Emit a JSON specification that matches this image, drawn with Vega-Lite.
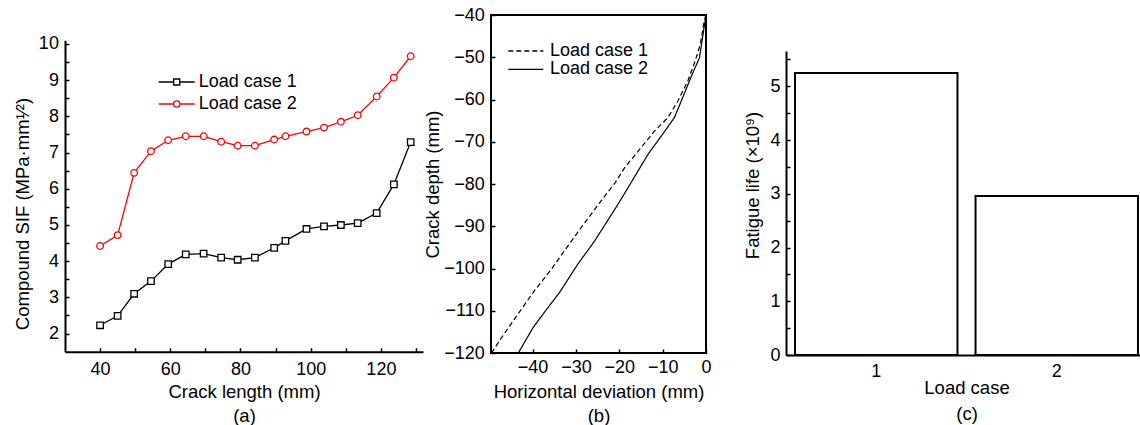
{
  "$schema": "https://vega.github.io/schema/vega-lite/v6.json",
  "padding": {"left": 13, "top": 5, "right": 0, "bottom": 0},
  "autosize": {"type": "pad"},
  "background": "white",
  "bounds": "flush",
  "columns": 3,
  "align": {"row": "none", "column": "each"},
  "spacing": {"row": 0, "column": 68},
  "resolve": {
    "scale": {"color": "independent", "strokeDash": "independent", "shape": "independent", "stroke": "independent"},
    "legend": {"color": "independent", "strokeDash": "independent", "shape": "independent", "stroke": "independent"}
  },
  "config": {
    "font": "Liberation Sans",
    "view": {"stroke": null},
    "axis": {
      "domainColor": "black", "domainWidth": 2,
      "tickColor": "black", "tickWidth": 1.5, "tickSize": -4,
      "labelFont": "Liberation Sans", "labelFontSize": 18, "labelColor": "black",
      "titleFont": "Liberation Sans", "titleFontSize": 18.5, "titleFontWeight": "normal", "titleColor": "black",
      "titleLineHeight": 24, "grid": false, "labelFlush": false, "labelOverlap": false
    },
    "legend": {"labelFont": "Liberation Sans", "labelColor": "black", "padding": 0}
  },
  "concat": [
    {"width": 358, "height": 1, "mark": "point", "data": {"values": []}},
    {"width": 227, "height": 1, "mark": "point", "data": {"values": []}},
    {"width": 361, "height": 1, "mark": "point", "data": {"values": []}},
    {
      "width": 358,
      "height": 336.7,
      "data": {"values": [
        {"len": 40, "sif": 2.23, "series": "Load case 1"},
        {"len": 45, "sif": 2.49, "series": "Load case 1"},
        {"len": 49.7, "sif": 3.10, "series": "Load case 1"},
        {"len": 54.5, "sif": 3.45, "series": "Load case 1"},
        {"len": 59.4, "sif": 3.92, "series": "Load case 1"},
        {"len": 64.4, "sif": 4.19, "series": "Load case 1"},
        {"len": 69.5, "sif": 4.21, "series": "Load case 1"},
        {"len": 74.5, "sif": 4.10, "series": "Load case 1"},
        {"len": 79.2, "sif": 4.04, "series": "Load case 1"},
        {"len": 84.1, "sif": 4.10, "series": "Load case 1"},
        {"len": 89.6, "sif": 4.37, "series": "Load case 1"},
        {"len": 92.8, "sif": 4.56, "series": "Load case 1"},
        {"len": 98.8, "sif": 4.89, "series": "Load case 1"},
        {"len": 103.8, "sif": 4.96, "series": "Load case 1"},
        {"len": 108.6, "sif": 5.00, "series": "Load case 1"},
        {"len": 113.4, "sif": 5.05, "series": "Load case 1"},
        {"len": 118.8, "sif": 5.33, "series": "Load case 1"},
        {"len": 123.7, "sif": 6.12, "series": "Load case 1"},
        {"len": 128.5, "sif": 7.29, "series": "Load case 1"},
        {"len": 40, "sif": 4.42, "series": "Load case 2"},
        {"len": 45, "sif": 4.72, "series": "Load case 2"},
        {"len": 49.7, "sif": 6.44, "series": "Load case 2"},
        {"len": 54.5, "sif": 7.04, "series": "Load case 2"},
        {"len": 59.4, "sif": 7.34, "series": "Load case 2"},
        {"len": 64.4, "sif": 7.45, "series": "Load case 2"},
        {"len": 69.5, "sif": 7.45, "series": "Load case 2"},
        {"len": 74.5, "sif": 7.30, "series": "Load case 2"},
        {"len": 79.2, "sif": 7.19, "series": "Load case 2"},
        {"len": 84.1, "sif": 7.19, "series": "Load case 2"},
        {"len": 89.6, "sif": 7.36, "series": "Load case 2"},
        {"len": 92.8, "sif": 7.45, "series": "Load case 2"},
        {"len": 98.8, "sif": 7.58, "series": "Load case 2"},
        {"len": 103.8, "sif": 7.69, "series": "Load case 2"},
        {"len": 108.6, "sif": 7.85, "series": "Load case 2"},
        {"len": 113.4, "sif": 8.03, "series": "Load case 2"},
        {"len": 118.8, "sif": 8.55, "series": "Load case 2"},
        {"len": 123.7, "sif": 9.07, "series": "Load case 2"},
        {"len": 128.5, "sif": 9.66, "series": "Load case 2"}
      ]},
      "encoding": {
        "x": {
          "field": "len", "type": "quantitative",
          "scale": {"domain": [30, 132], "nice": false, "zero": false},
          "axis": {
            "values": [40, 50, 60, 70, 80, 90, 100, 110, 120, 130],
            "labelExpr": "datum.value % 20 === 0 ? '' + datum.value : ''",
            "labelPadding": 13, "titlePadding": 4,
            "title": ["Crack length (mm)", "(a)"]
          }
        },
        "y": {
          "field": "sif", "type": "quantitative",
          "scale": {"domain": [1.5, 10.8], "nice": false, "zero": false},
          "axis": {
            "values": [2, 2.5, 3, 3.5, 4, 4.5, 5, 5.5, 6, 6.5, 7, 7.5, 8, 8.5, 9, 9.5, 10],
            "labelExpr": "datum.value % 1 === 0 ? '' + datum.value : ''",
            "domainDash": [311.4, 500],
            "labelPadding": 10.6, "titlePadding": 6, "titleY": 198.5,
            "title": "Compound SIF (MPa·mm¹⁄²)"
          }
        }
      },
      "layer": [
        {
          "mark": {"type": "line", "strokeWidth": 1.3},
          "encoding": {
            "color": {
              "field": "series", "type": "nominal",
              "scale": {"domain": ["Load case 1", "Load case 2"], "range": ["#000000", "#ff0000"]},
              "legend": {
                "orient": "none", "legendX": 100.7, "legendY": 56, "title": null,
                "symbolSize": 400, "symbolStrokeWidth": 1.3,
                "labelFontSize": 18, "labelOffset": 11, "rowPadding": 2,
                "encode": {"symbols": {"update": {
                  "shape": {"signal": "datum.value === 'Load case 1' ? 'M-1.8,0H-0.3M0.3,0H1.8M-0.3,-0.3H0.3V0.3H-0.3Z' : 'M-1.8,0H-0.32M0.32,0H1.8M-0.32,0A0.32,0.32,0,1,1,0.32,0A0.32,0.32,0,1,1,-0.32,0Z'"},
                  "fill": {"value": "white"}
                }}}
              }
            }
          }
        },
        {
          "transform": [{"filter": "datum.series === 'Load case 1'"}],
          "mark": {"type": "point", "shape": "square", "filled": true, "fill": "white", "stroke": "#000000", "strokeWidth": 1.3, "size": 42, "opacity": 1}
        },
        {
          "transform": [{"filter": "datum.series === 'Load case 2'"}],
          "mark": {"type": "point", "shape": "circle", "filled": true, "fill": "white", "stroke": "#ff0000", "strokeWidth": 1.3, "size": 44, "opacity": 1}
        }
      ]
    },
    {
      "width": 215,
      "height": 338,
      "view": {"stroke": "black", "strokeWidth": 2},
      "data": {"values": [
        {"dev": -49.5, "depth": -120, "series": "Load case 1"},
        {"dev": -47.2, "depth": -116.4, "series": "Load case 1"},
        {"dev": -43.4, "depth": -110.8, "series": "Load case 1"},
        {"dev": -39.6, "depth": -105.3, "series": "Load case 1"},
        {"dev": -35.7, "depth": -100.2, "series": "Load case 1"},
        {"dev": -31.9, "depth": -94.7, "series": "Load case 1"},
        {"dev": -28.0, "depth": -89.2, "series": "Load case 1"},
        {"dev": -24.2, "depth": -84.0, "series": "Load case 1"},
        {"dev": -20.9, "depth": -79.6, "series": "Load case 1"},
        {"dev": -18.8, "depth": -76.2, "series": "Load case 1"},
        {"dev": -15.0, "depth": -71.4, "series": "Load case 1"},
        {"dev": -11.9, "depth": -67.5, "series": "Load case 1"},
        {"dev": -8.8, "depth": -64.3, "series": "Load case 1"},
        {"dev": -6.5, "depth": -60.4, "series": "Load case 1"},
        {"dev": -4.2, "depth": -55.6, "series": "Load case 1"},
        {"dev": -2.5, "depth": -50.9, "series": "Load case 1"},
        {"dev": -1.3, "depth": -46.9, "series": "Load case 1"},
        {"dev": -0.4, "depth": -41.4, "series": "Load case 1"},
        {"dev": -0.1, "depth": -40.3, "series": "Load case 1"},
        {"dev": -43.3, "depth": -120, "series": "Load case 2"},
        {"dev": -39.9, "depth": -114.0, "series": "Load case 2"},
        {"dev": -36.5, "depth": -109.3, "series": "Load case 2"},
        {"dev": -33.8, "depth": -105.7, "series": "Load case 2"},
        {"dev": -29.6, "depth": -99.0, "series": "Load case 2"},
        {"dev": -25.7, "depth": -93.5, "series": "Load case 2"},
        {"dev": -20.3, "depth": -84.8, "series": "Load case 2"},
        {"dev": -17.3, "depth": -79.7, "series": "Load case 2"},
        {"dev": -13.4, "depth": -73.0, "series": "Load case 2"},
        {"dev": -10.0, "depth": -68.2, "series": "Load case 2"},
        {"dev": -7.3, "depth": -64.3, "series": "Load case 2"},
        {"dev": -5.4, "depth": -59.6, "series": "Load case 2"},
        {"dev": -3.5, "depth": -54.8, "series": "Load case 2"},
        {"dev": -1.5, "depth": -50.1, "series": "Load case 2"},
        {"dev": -0.9, "depth": -46.0, "series": "Load case 2"},
        {"dev": -0.2, "depth": -41.4, "series": "Load case 2"},
        {"dev": 0, "depth": -40.3, "series": "Load case 2"}
      ]},
      "mark": {"type": "line", "color": "black", "strokeWidth": 1.2},
      "encoding": {
        "x": {
          "field": "dev", "type": "quantitative",
          "scale": {"domain": [-49.6, 0], "nice": false, "zero": false},
          "axis": {
            "values": [-40, -30, -20, -10, 0],
            "domain": false, "labelPadding": 9.5, "titlePadding": 5.5,
            "title": ["Horizontal deviation (mm)", "(b)"]
          }
        },
        "y": {
          "field": "depth", "type": "quantitative",
          "scale": {"domain": [-120, -40], "nice": false, "zero": false},
          "axis": {
            "values": [-120, -110, -100, -90, -80, -70, -60, -50, -40],
            "domain": false, "labelPadding": 10.7, "titlePadding": 1,
            "title": "Crack depth (mm)"
          }
        },
        "order": {"field": "depth", "type": "quantitative"},
        "strokeDash": {
          "field": "series", "type": "nominal",
          "scale": {"domain": ["Load case 1", "Load case 2"], "range": [[5, 3], [1, 0]]},
          "legend": {
            "orient": "none", "legendX": 25.8, "legendY": 27, "title": null,
            "symbolSize": 100, "symbolStrokeColor": "black", "symbolStrokeWidth": 1.3,
            "labelFontSize": 18, "labelOffset": 15.2, "rowPadding": 0.3,
            "encode": {"symbols": {"update": {
              "shape": {"value": "M-3.5,0H3.5"}
            }}}
          }
        }
      }
    },
    {
      "width": 361,
      "height": 340,
      "data": {"values": [
        {"case": "1", "life": 5.25},
        {"case": "2", "life": 2.96}
      ]},
      "mark": {"type": "bar", "fill": "white", "stroke": "black", "strokeWidth": 2},
      "encoding": {
        "x": {
          "field": "case", "type": "ordinal",
          "scale": {"paddingInner": 0.1, "paddingOuter": 0.05},
          "axis": {
            "labelAngle": 0, "labelPadding": 11.5, "titlePadding": -2, "titleLineHeight": 26,
            "title": ["Load case", "(c)"]
          }
        },
        "y": {
          "field": "life", "type": "quantitative",
          "scale": {"domain": [0, 6.327], "nice": false, "zero": true},
          "axis": {
            "values": [0, 0.5, 1, 1.5, 2, 2.5, 3, 3.5, 4, 4.5, 5, 5.5],
            "labelExpr": "datum.value % 1 === 0 ? '' + datum.value : ''",
            "domainDash": [304, 500],
            "labelPadding": 10, "titlePadding": 7,
            "title": "Fatigue life (×10⁹)"
          }
        }
      }
    }
  ]
}
